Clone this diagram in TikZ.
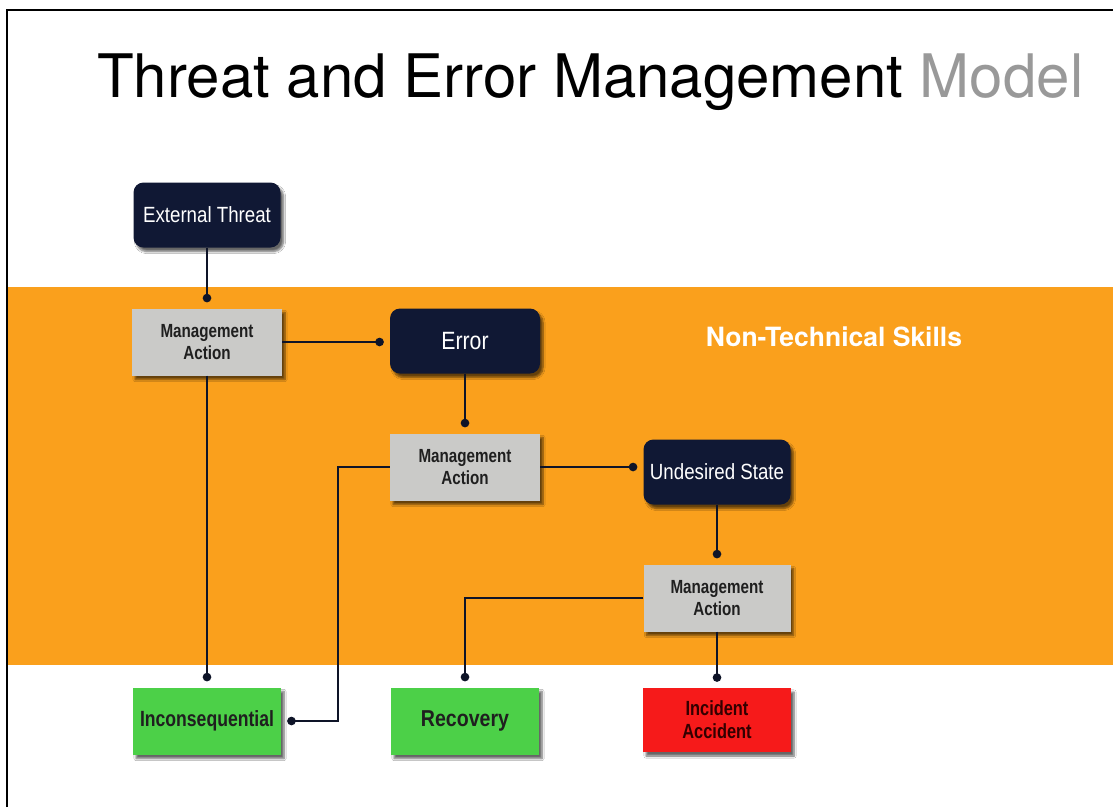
\documentclass[tikz,border=0pt]{standalone}
\usepackage{fontspec}
\setmainfont{TeX Gyre Heros}
\newfontfamily\condfont[FakeStretch=0.85]{Liberation Sans}
\newfontfamily\narrowfont[FakeStretch=0.8]{Liberation Sans}
\usetikzlibrary{arrows.meta,shadows.blur}

\definecolor{bandorange}{RGB}{250,160,28}
\definecolor{navy}{RGB}{16,24,52}
\definecolor{boxgrey}{RGB}{202,202,200}
\definecolor{okgreen}{RGB}{76,208,72}
\definecolor{badred}{RGB}{246,26,26}
\definecolor{linkcol}{RGB}{14,20,40}

\tikzset{
  boxshadow/.style={blur shadow={shadow xshift=3pt, shadow yshift=-4pt,
      shadow blur steps=6, shadow opacity=60}},
  threat/.style={rectangle, rounded corners=10pt, fill=navy, text=white,
      minimum width=147pt, minimum height=65pt, inner sep=2pt,
      font=\condfont\fontsize{22}{24}\selectfont, boxshadow},
  action/.style={rectangle, fill=boxgrey, text=black!88,
      minimum width=150pt, minimum height=67pt, inner sep=2pt, align=center,
      font=\narrowfont\bfseries\fontsize{19}{22}\selectfont, boxshadow},
  outcome/.style={rectangle, text=black!88,
      minimum width=148pt, minimum height=67pt, inner sep=2pt, align=center,
      font=\narrowfont\bfseries\fontsize{22}{24}\selectfont, boxshadow},
  link/.style={draw=linkcol, line width=2pt, -{Circle[length=8.5pt]},
      shorten >=6pt},
}

\begin{document}
\begin{tikzpicture}[x=1pt, y=-1pt]
  \useasboundingbox (0,0) rectangle (1113,807);
  \fill[white] (0,0) rectangle (1113,807);

  % frame lines along the left and top edges
  \draw[line width=2pt, black] (7,807) -- (7,10) -- (1113,10);

  % band behind the non-technical skills area
  \fill[bandorange] (8,287) rectangle (1113,665);

  % title
  \node[anchor=base west, inner sep=0pt, font=\fontsize{60}{66}\selectfont]
    (title) at (97,97) {Threat and Error Management \textcolor{black!40}{Model}};

  \node[text=white, font=\bfseries\fontsize{26.5}{30}\selectfont]
    (nts) at (834,337) {Non-Technical Skills};

  % nodes
  \node[threat] (et)  at (207,215) {External Threat};
  \node[action] (ma1) at (207,342) {Management\\Action};
  \node[threat, minimum width=150pt, font=\condfont\fontsize{25}{27}\selectfont]
        (err) at (465,341) {Error};
  \node[action] (ma2) at (465,467) {Management\\Action};
  \node[threat] (us)  at (717,472) {Undesired State};
  \node[action, minimum width=147pt] (ma3) at (717,598) {Management\\Action};

  \node[outcome, fill=okgreen] (inc) at (207,721) {Inconsequential};
  \node[outcome, fill=okgreen, font=\condfont\bfseries\fontsize{23}{26}\selectfont]
        (rec) at (465,721) {Recovery};
  \node[outcome, fill=badred, minimum height=64pt, text=black!80!red,
        font=\narrowfont\bfseries\fontsize{20.5}{23}\selectfont] (acc) at (717,720)
        {Incident\\Accident};

  % connectors
  \draw[link] (et.south) -- (ma1.north);
  \draw[link] (ma1.east) -- (ma1.east -| err.west);
  \draw[link] (err.south) -- (ma2.north);
  \draw[link] (ma2.east) -- (ma2.east -| us.west);
  \draw[link] (us.south) -- (ma3.north);
  \draw[link] (ma3.west) -| (rec.north);
  \draw[link] (ma3.south) -- (acc.north);
  \draw[link] (ma1.south) -- (inc.north);
  \coordinate (turn) at (338,467);
  \draw[link] (ma2.west) -- (turn) |- (inc.east);
\end{tikzpicture}
\end{document}
